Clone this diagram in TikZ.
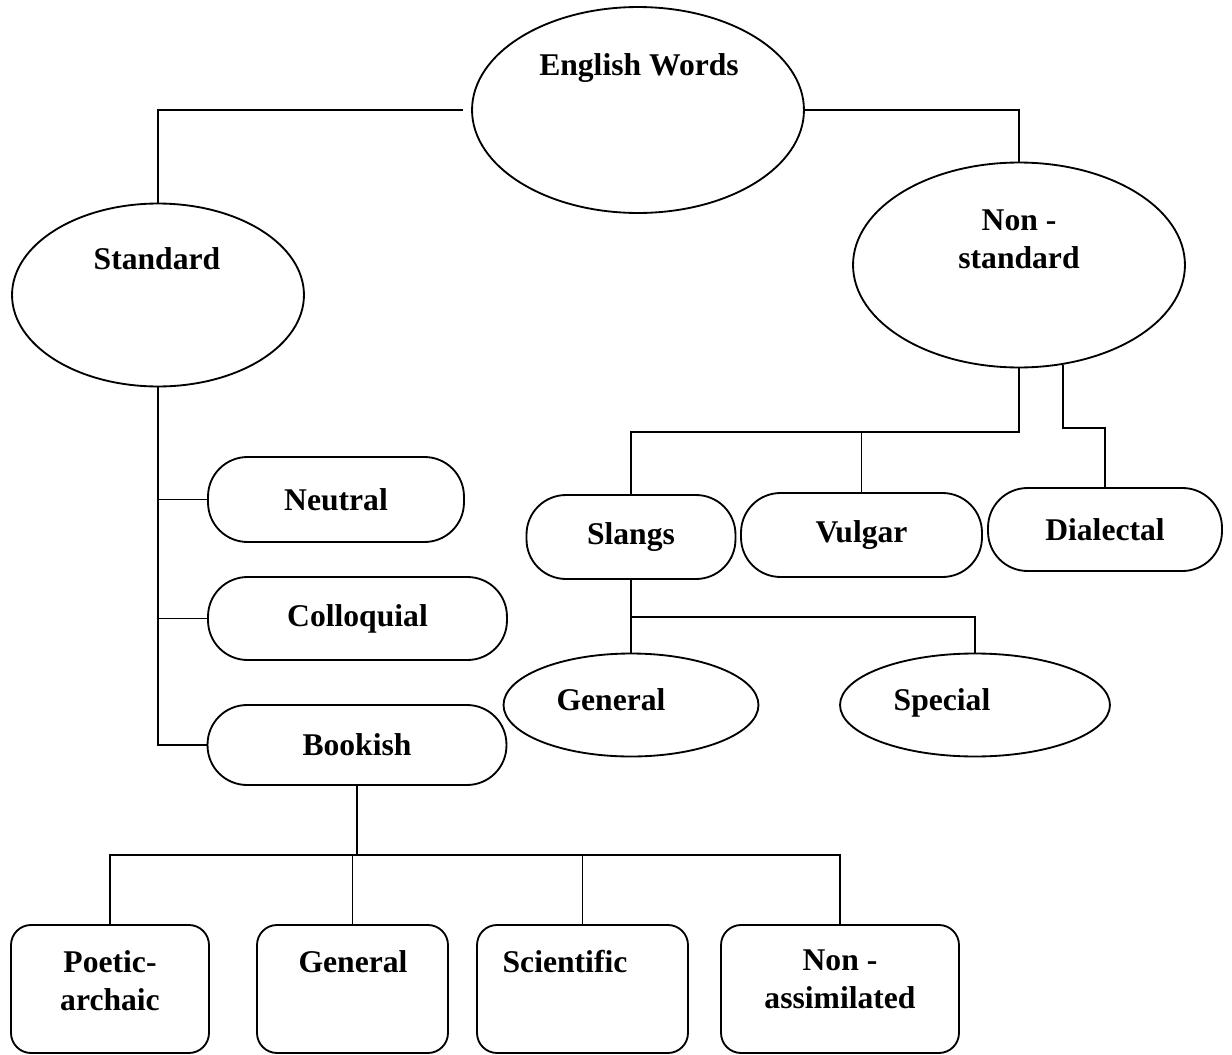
\documentclass[tikz,border=0pt]{standalone}
\usepackage{fontspec}
\setmainfont{Liberation Serif}
\usetikzlibrary{shapes.geometric}
\begin{document}
\begin{tikzpicture}[x=0.02cm, y=0.02cm, line width=1.05pt]
                \tikzstyle{every node}+=[inner sep=0pt, font=\bfseries\fontsize{18}{21.5}\selectfont]
                \tikzstyle{oval}=[draw, ellipse]
                \tikzstyle{pill}=[draw, rounded corners=0.79cm]
                \tikzstyle{card}=[draw, rounded corners=0.4cm, minimum height=2.56cm]
                \tikzstyle{txt}=[anchor=north, align=center]
                \tikzstyle{trunk}=[line width=1.5pt]
                \useasboundingbox (0,0) rectangle (1232,-1055);
                \node [oval, minimum width=6.64cm, minimum height=4.12cm] (ew) at (638,-110) {};
                \node [txt] (ew-t) at (639,-53) {English Words};
                \node [oval, minimum width=5.84cm, minimum height=3.66cm] (std) at (158,-295) {};
                \node [txt] (std-t) at (157,-247) {Standard};
                \node [oval, minimum width=6.64cm, minimum height=4.10cm] (nstd) at (1019,-265) {};
                \node [txt] (nstd-t) at (1019,-209) {Non -\\standard};
                \node [pill, minimum width=5.12cm, minimum height=1.70cm] (neu) at (336,-499.5) {Neutral};
                \node [pill, minimum width=5.98cm, minimum height=1.66cm] (col) at (357.5,-618.5) {Colloquial};
                \node [pill, minimum width=5.98cm, minimum height=1.60cm] (bk) at (357,-745) {Bookish};
                \node [pill, minimum width=4.18cm, minimum height=1.68cm] (sl) at (631,-537) {Slangs};
                \node [pill, minimum width=4.82cm, minimum height=1.68cm] (vu) at (861.5,-535) {Vulgar};
                \node [pill, minimum width=4.68cm, minimum height=1.66cm] (di) at (1105,-529.5) {Dialectal};
                \node [oval, minimum width=5.10cm, minimum height=2.06cm] (gen) at (631,-705) {};
                \node [txt] (gen-t) at (611,-688) {General};
                \node [oval, minimum width=5.40cm, minimum height=2.06cm] (spc) at (975,-705) {};
                \node [txt] (spc-t) at (942,-688) {Special};
                \node [card, minimum width=3.96cm] (pa) at (110,-989) {};
                \node [txt] (pa-t) at (110,-950) {Poetic-\\archaic};
                \node [card, minimum width=3.82cm] (bg) at (352.5,-989) {};
                \node [txt] (bg-t) at (353,-950) {General};
                \node [card, minimum width=4.22cm] (sci) at (582.5,-989) {};
                \node [txt] (sci-t) at (565,-949) {Scientific};
                \node [card, minimum width=4.76cm] (nas) at (840,-989) {};
                \node [txt] (nas-t) at (840,-949) {Non -\\assimilated};
                \coordinate (ns-k) at (1019,-432);
                \coordinate (di-k) at (1105,-428);
                \coordinate (sl-k) at (631,-617);
                \coordinate (bk-k) at (357,-855);
                \draw [shorten <=0.16cm] (ew.west) -| (std.north);
                \draw (ew.east) -| (nstd.north);
                \draw (std.south) |- (bk.west);
                \draw (neu.west) -- (neu.west -| std.south);
                \draw (col.west) -- (col.west -| std.south);
                \draw (nstd.south) -- (ns-k) -| (sl.north);
                \draw (vu.north) -- (vu.north |- ns-k);
                \draw (nstd.-66.5) |- (di-k) -- (di.north);
                \draw (sl.south) -- (sl-k) -| (spc.north);
                \draw (sl-k) -- (gen.north);
                \draw [trunk] (bk.south) -- (bk-k);
                \draw [trunk] (pa.north) |- (bk-k) -| (nas.north);
                \draw (bg.north) -- (bg.north |- bk-k);
                \draw (sci.north) -- (sci.north |- bk-k);
            \end{tikzpicture}
\end{document}
